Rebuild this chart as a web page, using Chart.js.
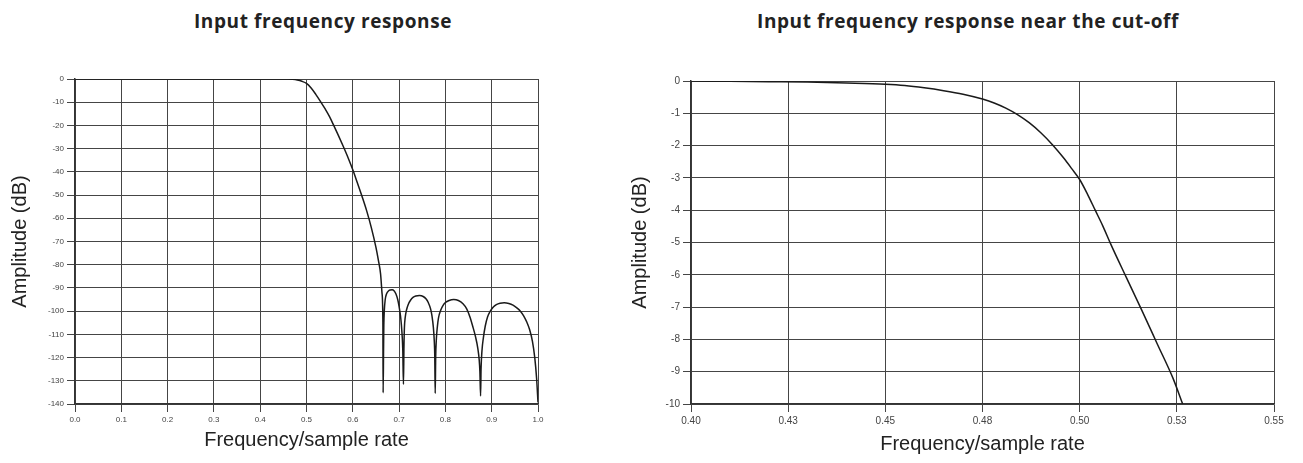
<!DOCTYPE html>
<html>
<head>
<meta charset="utf-8">
<script src="https://cdn.jsdelivr.net/npm/chart.js@4/dist/chart.umd.min.js"></script>
<style>
  html, body { margin: 0; padding: 0; background: #fff; }
  body { width: 1303px; height: 463px; position: relative; overflow: hidden; }
  .title { position: absolute; top: 8px; font-family: "Open Sans", sans-serif; font-weight: 700;
           font-size: 19px; letter-spacing: 0.6px; color: #222; white-space: nowrap; transform: translateX(-50%); }
  #wrapLeft { position: absolute; left: 0; top: 0; width: 560px; height: 463px; }
  #wrapRight { position: absolute; left: 600px; top: 0; width: 703px; height: 463px; }
</style>
</head>
<body>
<div class="title" style="left:323px">Input frequency response</div>
<div class="title" style="left:968px">Input frequency response near the cut-off</div>
<div id="wrapLeft"><canvas id="chartLeft" width="560" height="463"></canvas></div>
<div id="wrapRight"><canvas id="chartRight" width="703" height="463"></canvas></div>
<script>
"use strict";
// full band response
let leftFreq = [0.0, 0.1, 0.2, 0.3, 0.4, 0.46, 0.47, 0.48, 0.49, 0.50, 0.51, 0.52, 0.53, 0.54, 0.55,
    0.56, 0.57, 0.58, 0.59, 0.60, 0.61, 0.62, 0.63, 0.64, 0.65, 0.655, 0.66, 0.663, 0.665, 0.6655,
    0.6665, 0.667, 0.668, 0.670, 0.673, 0.677, 0.681, 0.685, 0.689, 0.693, 0.697, 0.700, 0.703, 0.705, 0.707, 0.708, 0.7094,
    0.7105, 0.7115, 0.713, 0.716, 0.72, 0.725, 0.73, 0.736, 0.744, 0.752, 0.758, 0.763, 0.768, 0.771, 0.774, 0.776, 0.777, 0.778,
    0.779, 0.7805, 0.7825, 0.785, 0.79, 0.795, 0.80, 0.808, 0.818, 0.828, 0.838, 0.846, 0.853, 0.859, 0.865, 0.870, 0.873, 0.8745, 0.876,
    0.877, 0.879, 0.882, 0.886, 0.891, 0.897, 0.903, 0.91, 0.918, 0.927, 0.937, 0.946, 0.955, 0.962, 0.969, 0.976, 0.982, 0.988, 0.993, 0.997, 1.0];
let leftDb = [0, 0, 0, 0, 0, 0, -0.15, -0.45, -1.0, -1.9, -3.9, -6.6, -9.6, -12.8, -16.3,
    -20.5, -24.8, -29.3, -34, -39.1, -44.8, -50.6, -56.8, -64, -72.5, -77.8, -84, -92, -105, -135.2,
    -115, -106, -100, -95, -92.5, -91.3, -90.9, -90.8, -91.2, -92.5, -95, -98, -102, -106, -112, -117, -131.5,
    -115, -107, -103, -99.5, -97, -95.2, -94.1, -93.5, -93.3, -93.7, -94.7, -96.3, -99, -102, -107, -113, -119, -135.4,
    -120, -112, -107, -103, -99.5, -97.5, -96.3, -95.4, -95.0, -95.4, -96.8, -99, -102.5, -106.5, -111, -116, -121, -126, -136.5,
    -125, -117, -111.5, -106.5, -102.5, -100, -98.3, -97.2, -96.6, -96.4, -96.7, -97.4, -98.7, -100, -102, -104.8, -108, -113, -120, -129, -139.3];

// zoom near the cut-off
let rightFreq = [0.40, 0.41, 0.42, 0.43, 0.44, 0.45, 0.455, 0.46, 0.465, 0.47, 0.475, 0.478, 0.481, 0.484,
    0.487, 0.490, 0.493, 0.496, 0.498, 0.500, 0.502, 0.504, 0.506, 0.508, 0.512, 0.516, 0.520, 0.524, 0.5265];
let rightDb = [0, -0.01, -0.02, -0.03, -0.06, -0.10, -0.14, -0.21, -0.30, -0.41, -0.56, -0.68, -0.84, -1.04,
    -1.29, -1.60, -1.97, -2.40, -2.72, -3.05, -3.50, -4.0, -4.5, -5.05, -6.08, -7.1, -8.15, -9.2, -10.0];
let rightTickLabels = ['0.40', '0.43', '0.45', '0.48', '0.50', '0.53', '0.55'];

let gridColor = '#454545';
let tickFont = (size) => ({ family: '"Liberation Sans", Arial, sans-serif', size: size });
let axisTitleFont = { family: '"Liberation Sans", Arial, sans-serif', size: 20 };

function MakeChart(canvasId, freq, db, opts) {
    let ctx = document.getElementById(canvasId).getContext('2d');
    return new Chart(ctx, {
        type: 'line',
        data: {
            datasets: [{
                data: freq.map((f, i) => ({ x: f, y: db[i] })),
                borderColor: '#1a1a1a',
                borderWidth: 1.5,
                pointRadius: 0,
                fill: false,
                cubicInterpolationMode: 'monotone'
            }]
        },
        options: {
            responsive: false,
            animation: false,
            devicePixelRatio: 1,
            layout: { padding: { top: opts.top, right: opts.right, bottom: 0, left: 0 } },
            plugins: { legend: { display: false }, tooltip: { enabled: false } },
            scales: {
                x: {
                    type: 'linear',
                    min: opts.xMin,
                    max: opts.xMax,
                    afterFit: (scale) => { scale.height = opts.xHeight; },
                    grid: { color: gridColor, lineWidth: 1, tickLength: 8 },
                    border: { color: '#333', width: 1.5 },
                    ticks: {
                        stepSize: opts.xStep,
                        color: '#444',
                        font: tickFont(opts.tickSize),
                        maxRotation: 0,
                        autoSkip: false,
                        callback: opts.xLabel
                    },
                    title: {
                        display: true,
                        text: 'Frequency/sample rate',
                        color: '#222',
                        font: axisTitleFont,
                        padding: { top: 0, bottom: opts.xTitlePad }
                    }
                },
                y: {
                    min: opts.yMin,
                    max: 0,
                    afterFit: (scale) => { scale.width = opts.yWidth; },
                    grid: { color: gridColor, lineWidth: 1, tickLength: 8 },
                    border: { color: '#333', width: 1.5 },
                    ticks: {
                        stepSize: opts.yStep,
                        color: '#444',
                        font: tickFont(opts.tickSize),
                        autoSkip: false
                    },
                    title: {
                        display: true,
                        text: 'Amplitude (dB)',
                        color: '#222',
                        font: axisTitleFont,
                        padding: { top: opts.yTitlePad, bottom: 0 }
                    }
                }
            }
        }
    });
}

MakeChart('chartLeft', leftFreq, leftDb, {
    top: 79, right: 22, xHeight: 59, yWidth: 75,
    xMin: 0, xMax: 1, xStep: 0.1, yMin: -140, yStep: 10, tickSize: 8,
    xTitlePad: 11, yTitlePad: 8,
    xLabel: (value) => Number(value).toFixed(1)
});

MakeChart('chartRight', rightFreq, rightDb, {
    top: 81, right: 29, xHeight: 59, yWidth: 91,
    xMin: 0.4, xMax: 0.55, xStep: 0.025, yMin: -10, yStep: 1, tickSize: 10,
    xTitlePad: 7, yTitlePad: 28,
    xLabel: (value, index) => rightTickLabels[index]
});
</script>
</body>
</html>
